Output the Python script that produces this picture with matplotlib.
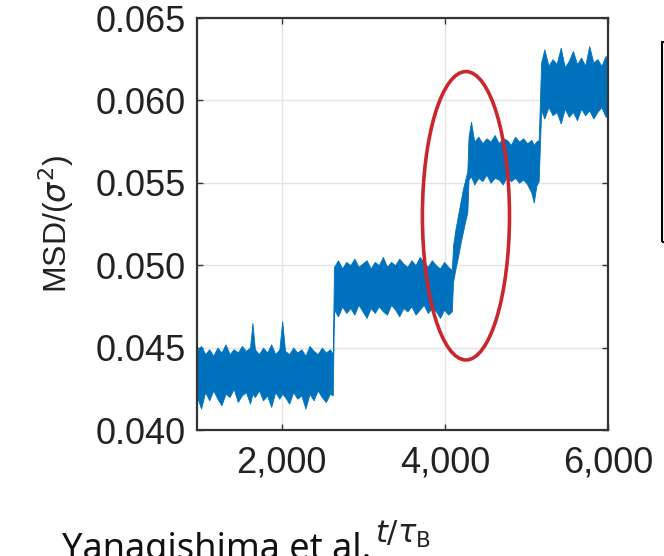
import matplotlib
matplotlib.use("Agg")
import matplotlib.pyplot as plt
from matplotlib.patches import Ellipse, Rectangle
from matplotlib.ticker import FuncFormatter

t_vals = [960, 1010, 1060, 1110, 1160, 1210, 1260, 1310, 1360, 1410, 1460, 1510,
          1560, 1610, 1640, 1670, 1720, 1770, 1820, 1870, 1920, 1970, 2005, 2040,
          2090, 2140, 2190, 2240, 2290, 2340, 2390, 2440, 2490, 2540, 2590, 2625,
          2640, 2690, 2740, 2790, 2840, 2890, 2940, 2990, 3040, 3090, 3140, 3190,
          3240, 3290, 3340, 3390, 3440, 3490, 3540, 3590, 3640, 3690, 3740, 3790,
          3840, 3890, 3940, 3990, 4040, 4085,
          4100, 4130, 4160, 4190, 4220, 4250, 4275,
          4290, 4320, 4360, 4410, 4460, 4510, 4560, 4610, 4660, 4710, 4760, 4810,
          4860, 4910, 4960, 5010, 5060, 5090, 5120, 5150,
          5180, 5220, 5270, 5320, 5370, 5420, 5470, 5520, 5570, 5620, 5670, 5720,
          5770, 5820, 5870, 5920, 5970, 6000]

msd_upper = [0.0448, 0.0451, 0.0446, 0.0449, 0.0445, 0.0450, 0.0447, 0.0452, 0.0446, 0.0449, 0.0447, 0.0451,
             0.0448, 0.0450, 0.0465, 0.0449, 0.0446, 0.0450, 0.0447, 0.0452, 0.0446, 0.0449, 0.0466, 0.0448,
             0.0446, 0.0450, 0.0447, 0.0449, 0.0445, 0.0451, 0.0448, 0.0446, 0.0450, 0.0447, 0.0449, 0.0446,
             0.0499, 0.0503, 0.0498, 0.0502, 0.0500, 0.0504, 0.0499, 0.0501, 0.0503, 0.0498, 0.0502, 0.0500,
             0.0505, 0.0499, 0.0502, 0.0500, 0.0504, 0.0501, 0.0499, 0.0503, 0.0500, 0.0505, 0.0502, 0.0499,
             0.0503, 0.0500, 0.0498, 0.0502, 0.0499, 0.0497,
             0.0512, 0.0522, 0.0530, 0.0538, 0.0546, 0.0552, 0.0557,
             0.0578, 0.0587, 0.0575, 0.0578, 0.0574, 0.0577, 0.0575, 0.0579, 0.0574, 0.0577, 0.0576, 0.0573,
             0.0578, 0.0575, 0.0577, 0.0574, 0.0576, 0.0573, 0.0575, 0.0576,
             0.0623, 0.0631, 0.0621, 0.0625, 0.0622, 0.0632, 0.0620, 0.0624, 0.0630, 0.0622, 0.0626, 0.0621,
             0.0633, 0.0623, 0.0625, 0.0621, 0.0627, 0.0624]

msd_lower = [0.0420, 0.0413, 0.0423, 0.0418, 0.0424, 0.0419, 0.0415, 0.0422, 0.0420, 0.0425, 0.0417, 0.0421,
             0.0423, 0.0416, 0.0422, 0.0420, 0.0424, 0.0418, 0.0421, 0.0414, 0.0423, 0.0419, 0.0422, 0.0420,
             0.0416, 0.0423, 0.0419, 0.0421, 0.0413, 0.0422, 0.0418, 0.0424, 0.0420, 0.0417, 0.0422, 0.0421,
             0.0473, 0.0469, 0.0475, 0.0471, 0.0474, 0.0470, 0.0476, 0.0472, 0.0468, 0.0474, 0.0471, 0.0475,
             0.0472, 0.0470, 0.0476, 0.0473, 0.0469, 0.0474, 0.0472, 0.0475, 0.0470, 0.0473, 0.0476, 0.0471,
             0.0474, 0.0472, 0.0468, 0.0473, 0.0470, 0.0472,
             0.0490, 0.0498, 0.0505, 0.0513, 0.0520, 0.0527, 0.0532,
             0.0552, 0.0554, 0.0549, 0.0553, 0.0551, 0.0555, 0.0550, 0.0553, 0.0552, 0.0549, 0.0554, 0.0551,
             0.0553, 0.0550, 0.0552, 0.0549, 0.0544, 0.0538, 0.0548, 0.0551,
             0.0594, 0.0589, 0.0596, 0.0591, 0.0593, 0.0586, 0.0595, 0.0590, 0.0593, 0.0588, 0.0595, 0.0591,
             0.0594, 0.0589, 0.0593, 0.0596, 0.0590, 0.0592]

x_ticks = [2000, 4000, 6000]
y_ticks = [0.040, 0.045, 0.050, 0.055, 0.060, 0.065]

# highlighted jump (red ellipse)
ring_center = (4258, 0.0530)
ring_width = 1068
ring_height = 0.0175

plt.rcParams['font.family'] = ['Liberation Sans', 'DejaVu Sans']
plt.rcParams['mathtext.fontset'] = 'dejavusans'

fig = plt.figure(figsize=(6.64, 5.56), dpi=100)
ax = fig.add_axes([197 / 664, 1 - 430 / 556, 411 / 664, 412 / 556])

ax.fill_between(t_vals, msd_lower, msd_upper, color='#0072BD', lw=0.6, edgecolor='#0072BD')

ring = Ellipse(ring_center, ring_width, ring_height, fill=False,
               edgecolor='#C8282D', lw=2.6, clip_on=False, zorder=5)
ax.add_patch(ring)

ax.set_xlim(960, 6000)
ax.set_ylim(0.040, 0.065)
ax.set_xticks(x_ticks)
ax.set_yticks(y_ticks)
ax.xaxis.set_major_formatter(FuncFormatter(lambda v, p: f'{int(v):,}'))
ax.yaxis.set_major_formatter(FuncFormatter(lambda v, p: f'{v:.3f}'))
ax.grid(True, color='#E4E4E4', lw=1.0)
ax.set_axisbelow(True)

for s in ax.spines.values():
    s.set_color('#333333')
    s.set_linewidth(1.6)
ax.tick_params(direction='in', length=4, width=1, colors='#333333',
               top=True, right=True, labelsize=26, labelcolor='#222222')
ax.tick_params(axis='x', pad=11)
ax.tick_params(axis='y', pad=8)

ax.set_ylabel(r'MSD/($\sigma^2$)', fontsize=23, color='#222222', labelpad=14)
ax.set_xlabel(r'$t/\tau_{\rm B}$', fontsize=22, color='#222222', labelpad=28)

# partial legend frame on the right edge
fig.patches.append(Rectangle((662 / 664, 1 - 242 / 556), 0.05, 200 / 556,
                             transform=fig.transFigure, fill=False,
                             edgecolor='black', lw=1.5))

fig.text(62 / 664, -12 / 556, 'Yanagishima et al.', fontsize=26,
         family='Noto Sans', color='#111111', va='bottom', ha='left')

fig.savefig('out.png', dpi=100)
